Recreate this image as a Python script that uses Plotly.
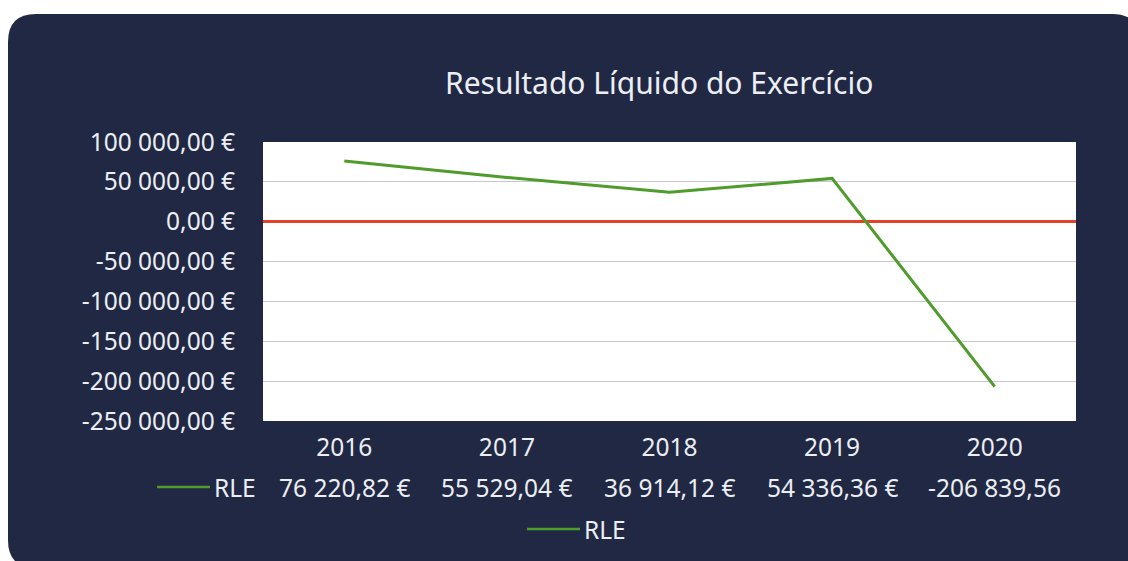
import plotly.graph_objects as go

years = ["2016", "2017", "2018", "2019", "2020"]
rle = [76220.82, 55529.04, 36914.12, 54336.36, -206839.56]
series_name = "RLE"
title = "Resultado Líquido do Exercício"
y_min, y_max, y_step = -250000, 100000, 50000

W, H = 1128, 561
L, R, T, B = 263, 1076, 142, 421  # plot area in pixels
FONT = "Noto Sans"
TXT = "#eceef3"
BG = "#202844"
GREEN = "#4f9c2c"
FS = 24.5


def px_x(px):
    return (px - L) / (R - L)


def px_y(py):
    return (B - py) / (B - T)


def fmt(v):
    s = f"{abs(v):,.2f}".replace(",", " ").replace(".", ",")
    return ("-" if v < 0 else "") + s


table_text = [fmt(v) + " €" for v in rle]
table_text[-1] = fmt(rle[-1])  # last value clipped at the box edge in the original

y_ticks = list(range(y_min, y_max + 1, y_step))
y_ticktext = [fmt(v) + " €" for v in y_ticks]

fig = go.Figure()
fig.add_trace(go.Scatter(
    x=list(range(len(years))), y=rle, mode="lines", name=series_name,
    line=dict(color=GREEN, width=3), showlegend=True,
))

shapes = []
# rounded dark card
x0, y0, x1, y1, r = px_x(8), px_y(14), px_x(1140), px_y(568), 28
rx, ry = r / (R - L), r / (B - T)
path = (f"M {x0+rx},{y0} L {x1-rx},{y0} Q {x1},{y0} {x1},{y0-ry} "
        f"L {x1},{y1+ry} Q {x1},{y1} {x1-rx},{y1} L {x0+rx},{y1} "
        f"Q {x0},{y1} {x0},{y1+ry} L {x0},{y0-ry} Q {x0},{y0} {x0+rx},{y0} Z")
shapes.append(dict(type="path", xref="paper", yref="paper", path=path,
                   fillcolor=BG, line=dict(width=0), layer="below"))
# white plot area
shapes.append(dict(type="rect", xref="paper", yref="paper", x0=0, x1=1, y0=0, y1=1,
                   fillcolor="white", line=dict(width=0), layer="below"))
# table key line
shapes.append(dict(type="line", xref="paper", yref="paper",
                   x0=px_x(157), x1=px_x(210), y0=px_y(487), y1=px_y(487),
                   line=dict(color=GREEN, width=2.5)))
# legend key line
shapes.append(dict(type="line", xref="paper", yref="paper",
                   x0=px_x(527), x1=px_x(580), y0=px_y(529), y1=px_y(529),
                   line=dict(color=GREEN, width=2.5)))

annotations = [
    dict(text=title, x=px_x(659), y=px_y(83), xref="paper", yref="paper",
         showarrow=False, font=dict(family=FONT, size=30, color=TXT),
         xanchor="center", yanchor="middle"),
    dict(text=series_name, x=px_x(212), y=px_y(487), xref="paper", yref="paper",
         showarrow=False, font=dict(family=FONT, size=FS, color=TXT),
         xanchor="left", yanchor="middle"),
    dict(text=series_name, x=px_x(582), y=px_y(529), xref="paper", yref="paper",
         showarrow=False, font=dict(family=FONT, size=FS, color=TXT),
         xanchor="left", yanchor="middle"),
]
for i, t in enumerate(table_text):
    annotations.append(dict(text=t, x=i, y=px_y(487), xref="x", yref="paper",
                            showarrow=False, font=dict(family=FONT, size=FS, color=TXT),
                            xanchor="center", yanchor="middle"))

fig.update_layout(
    width=W, height=H,
    margin=dict(l=L, r=W - R, t=T, b=H - B, pad=0),
    paper_bgcolor="white", plot_bgcolor="rgba(0,0,0,0)",
    shapes=shapes, annotations=annotations,
    showlegend=False,
    xaxis=dict(range=[-0.5, len(years) - 0.5], tickvals=list(range(len(years))),
               ticktext=years, showgrid=False, zeroline=False, showline=False,
               ticks="outside", ticklen=5, tickcolor="rgba(0,0,0,0)",
               tickfont=dict(family=FONT, size=FS, color=TXT)),
    yaxis=dict(range=[y_min, y_max], tickvals=y_ticks, ticktext=y_ticktext,
               showgrid=True, gridcolor="#c6c6d6", gridwidth=1,
               zeroline=True, zerolinecolor="#e4432a", zerolinewidth=2.5,
               showline=False, ticks="outside", ticklen=22,
               tickcolor="rgba(0,0,0,0)",
               tickfont=dict(family=FONT, size=FS, color=TXT)),
)

fig.write_html("out.html", config={"displayModeBar": False},
               post_script="document.body.style.margin='0';document.body.style.overflow='hidden';")
